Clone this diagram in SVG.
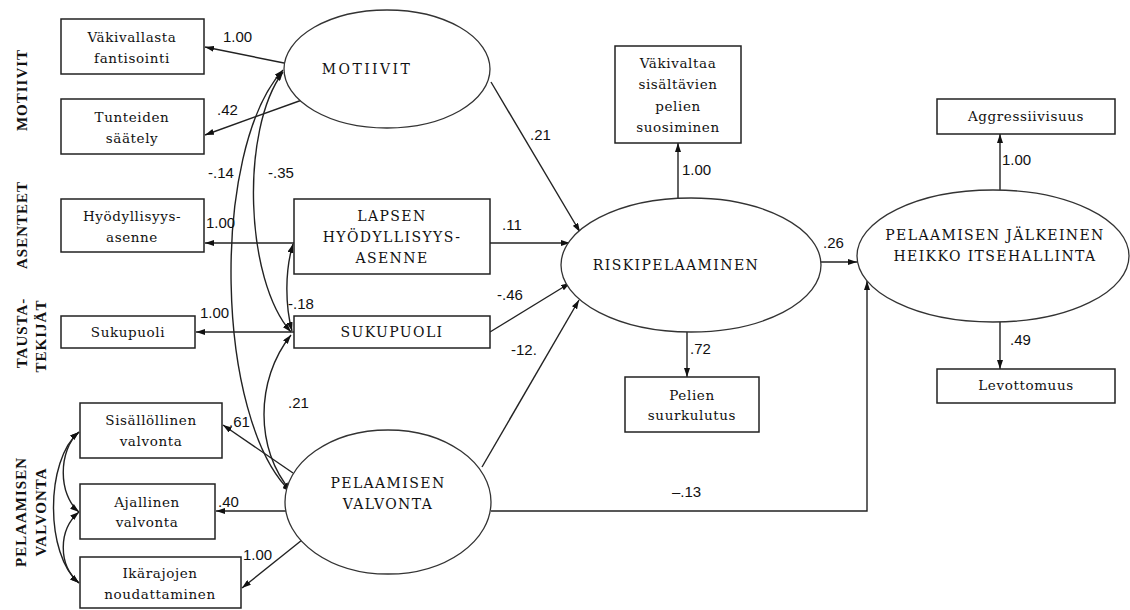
<svg xmlns="http://www.w3.org/2000/svg" width="1130" height="610" viewBox="0 0 1130 610">
<defs>
<marker id="ah" viewBox="0 0 9 6" refX="9" refY="3" markerWidth="9" markerHeight="6" markerUnits="userSpaceOnUse" orient="auto-start-reverse">
<path d="M0,0 L9,3 L0,6 z" fill="#111"/>
</marker>
<style>
.box{fill:#fff;stroke:#222;stroke-width:1.5}
.ell{fill:#fff;stroke:#333;stroke-width:1.3}
.t{font-family:"DejaVu Serif",serif;font-size:13.5px;letter-spacing:0.6px;text-anchor:middle;fill:#111}
.c{font-family:"DejaVu Serif",serif;font-size:14px;letter-spacing:1.4px;text-anchor:middle;fill:#111}
.n{font-family:"Liberation Sans",Arial,sans-serif;font-size:15px;fill:#111}
.s{font-family:"Liberation Serif",serif;font-size:15px;font-weight:bold;letter-spacing:1px;text-anchor:middle;fill:#111}
.ln{fill:none;stroke:#222;stroke-width:1.4}
.a{marker-end:url(#ah)}
.d{marker-start:url(#ah);marker-end:url(#ah)}
</style>
</defs>
<rect width="1130" height="610" fill="#fff"/>

<g id="side-labels">
<text class="s" transform="translate(27,90) rotate(-90)">MOTIIVIT</text>
<text class="s" transform="translate(27,225) rotate(-90)">ASENTEET</text>
<text class="s" transform="translate(27,333) rotate(-90)">TAUSTA-</text>
<text class="s" transform="translate(46,336) rotate(-90)">TEKIJÄT</text>
<text class="s" transform="translate(26,512) rotate(-90)">PELAAMISEN</text>
<text class="s" transform="translate(46,512) rotate(-90)">VALVONTA</text>
</g>

<g id="connectors">
<path class="ln a" d="M284 63 L205 47"/>
<path class="ln a" d="M302 100 L205 135"/>
<path class="ln a" d="M294 243 L205 243"/>
<path class="ln a" d="M294 332 L196 332"/>
<path class="ln a" d="M293 473 L223 425"/>
<path class="ln a" d="M286 511 L216 511"/>
<path class="ln a" d="M302 540 L242 588"/>
<path class="ln a" d="M491 82 L580 232"/>
<path class="ln a" d="M490 243 L570 243"/>
<path class="ln a" d="M490 332 L570 283"/>
<path class="ln a" d="M482 467 L579 300"/>
<path class="ln a" d="M678 199 L678 143"/>
<path class="ln a" d="M687 332 L687 377"/>
<path class="ln a" d="M821 262 L857 262"/>
<path class="ln a" d="M491 511 L867 511 L867 281"/>
<path class="ln a" d="M1000 190 L1000 134"/>
<path class="ln a" d="M1000 322 L1000 369"/>
<path class="ln d" d="M283 70 C210 150 215 420 291 492"/>
<path class="ln d" d="M283 72 C240 130 245 280 291 332"/>
<path class="ln d" d="M293 244 C285 270 285 305 292 331"/>
<path class="ln d" d="M291 335 C255 380 255 450 291 491"/>
<path class="ln d" d="M79 432 C58 450 58 495 79 512"/>
<path class="ln d" d="M79 432 C45 460 45 555 79 583"/>
<path class="ln d" d="M79 512 C58 530 58 565 79 583"/>
</g>

<g id="labels">
<text class="n" x="223" y="42">1.00</text>
<text class="n" x="217" y="115">.42</text>
<text class="n" x="208" y="178">-.14</text>
<text class="n" x="268" y="178">-.35</text>
<text class="n" x="206" y="228">1.00</text>
<text class="n" x="200" y="318">1.00</text>
<text class="n" x="288" y="309">-.18</text>
<text class="n" x="288" y="408">.21</text>
<text class="n" x="229" y="427">.61</text>
<text class="n" x="218" y="507">.40</text>
<text class="n" x="243" y="560">1.00</text>
<text class="n" x="530" y="140">.21</text>
<text class="n" x="502" y="230">.11</text>
<text class="n" x="497" y="300">-.46</text>
<text class="n" x="511" y="355">-12.</text>
<text class="n" x="682" y="175">1.00</text>
<text class="n" x="690" y="354">.72</text>
<text class="n" x="823" y="248">.26</text>
<text class="n" x="1002" y="165">1.00</text>
<text class="n" x="1010" y="345">.49</text>
<text class="n" x="672" y="497">–.13</text>
</g>

<g id="n-vakivallasta">
<rect class="box" x="61" y="19" width="143" height="55"/>
<text class="t" x="132" y="42">Väkivallasta</text>
<text class="t" x="132" y="63">fantisointi</text>
</g>
<g id="n-tunteiden">
<rect class="box" x="61" y="99" width="143" height="55"/>
<text class="t" x="132" y="122">Tunteiden</text>
<text class="t" x="132" y="143">säätely</text>
</g>
<g id="n-hyodyllisyys">
<rect class="box" x="61" y="199" width="143" height="53"/>
<text class="t" x="132" y="221">Hyödyllisyys-</text>
<text class="t" x="132" y="242">asenne</text>
</g>
<g id="n-sukupuoli">
<rect class="box" x="61" y="316" width="134" height="32"/>
<text class="t" x="128" y="337">Sukupuoli</text>
</g>
<g id="n-sisallollinen">
<rect class="box" x="80" y="403" width="142" height="55"/>
<text class="t" x="151" y="425">Sisällöllinen</text>
<text class="t" x="151" y="446">valvonta</text>
</g>
<g id="n-ajallinen">
<rect class="box" x="80" y="484" width="135" height="55"/>
<text class="t" x="147" y="507">Ajallinen</text>
<text class="t" x="147" y="527">valvonta</text>
</g>
<g id="n-ikarajojen">
<rect class="box" x="80" y="557" width="161" height="51"/>
<text class="t" x="160" y="578">Ikärajojen</text>
<text class="t" x="160" y="599">noudattaminen</text>
</g>

<g id="n-motiivit">
<ellipse class="ell" cx="387" cy="69" rx="103" ry="59"/>
<text class="c" x="367" y="74" style="letter-spacing:2.4px">MOTIIVIT</text>
</g>
<g id="n-lapsen">
<rect class="box" x="294" y="199" width="196" height="75"/>
<text class="c" x="392" y="221">LAPSEN</text>
<text class="c" x="392" y="242">HYÖDYLLISYYS-</text>
<text class="c" x="392" y="263">ASENNE</text>
</g>
<g id="n-sukupuoli2">
<rect class="box" x="294" y="316" width="196" height="32"/>
<text class="c" x="392" y="337">SUKUPUOLI</text>
</g>
<g id="n-pelvalvonta">
<ellipse class="ell" cx="388" cy="502" rx="103" ry="72"/>
<text class="c" x="388" y="488">PELAAMISEN</text>
<text class="c" x="388" y="509">VALVONTA</text>
</g>

<g id="n-riski">
<ellipse class="ell" cx="691" cy="265" rx="130" ry="67"/>
<text class="c" x="676" y="270">RISKIPELAAMINEN</text>
</g>
<g id="n-vakivaltaa">
<rect class="box" x="615" y="46" width="126" height="97"/>
<text class="t" x="678" y="68">Väkivaltaa</text>
<text class="t" x="678" y="89">sisältävien</text>
<text class="t" x="678" y="111">pelien</text>
<text class="t" x="678" y="132">suosiminen</text>
</g>
<g id="n-pelien">
<rect class="box" x="625" y="377" width="134" height="55"/>
<text class="t" x="692" y="400">Pelien</text>
<text class="t" x="692" y="420">suurkulutus</text>
</g>

<g id="n-pjhi">
<ellipse class="ell" cx="993" cy="256" rx="136" ry="66"/>
<text class="c" x="995" y="240">PELAAMISEN JÄLKEINEN</text>
<text class="c" x="995" y="261">HEIKKO ITSEHALLINTA</text>
</g>
<g id="n-aggressiivisuus">
<rect class="box" x="937" y="99" width="178" height="35"/>
<text class="t" x="1026" y="121">Aggressiivisuus</text>
</g>
<g id="n-levottomuus">
<rect class="box" x="937" y="369" width="178" height="34"/>
<text class="t" x="1026" y="390">Levottomuus</text>
</g>
</svg>
